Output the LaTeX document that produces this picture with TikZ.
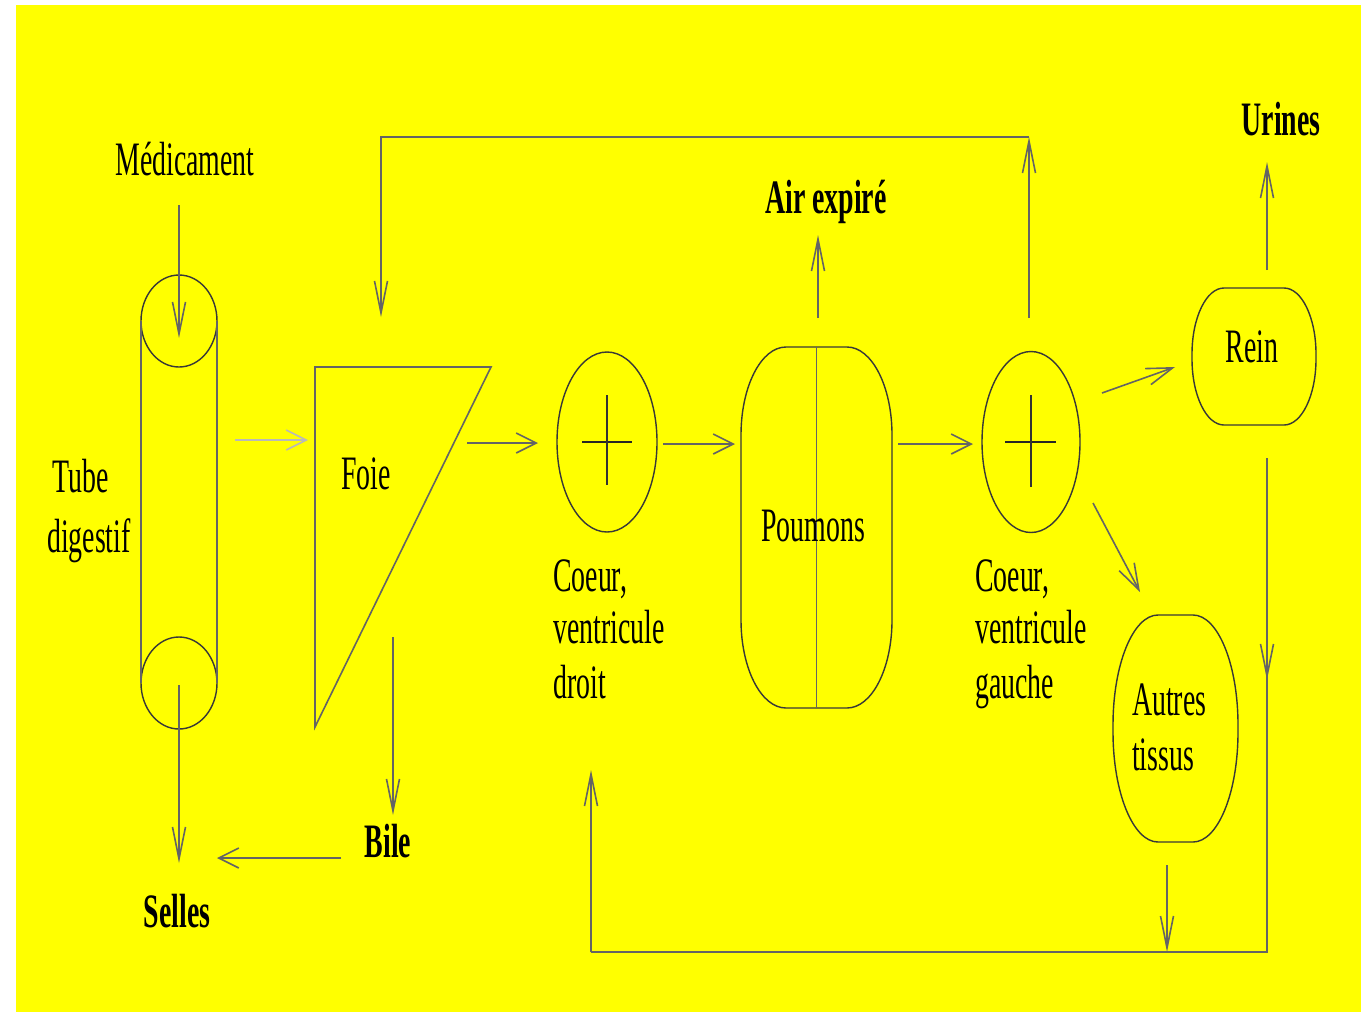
\documentclass[tikz,border=0pt]{standalone}
\usepackage{fontspec}
\setmainfont{Liberation Serif}[FakeStretch=0.58]
\usetikzlibrary{arrows.meta,shapes.geometric}
\definecolor{bgyellow}{RGB}{255,255,0}
\definecolor{linegray}{RGB}{100,100,100}
\definecolor{lightline}{RGB}{185,185,185}
\tikzset{
  ln/.style={draw=linegray, line width=1.6pt},
  harrow/.style={ln, -{Straight Barb[length=20pt,width=20pt]}},
  varrow/.style={ln, -{Straight Barb[length=32pt,width=13pt]}},
  darrow/.style={ln, -{Straight Barb[length=26pt,width=17pt]}},
  organ/.style={draw=black!78, line width=1.4pt},
  crossh/.style={draw=black!85, line width=2.4pt},
  crossv/.style={draw=black!80, line width=1.4pt},
  lbl/.style={font=\fontsize{48}{54}\selectfont, inner sep=0pt, text=black},
  blbl/.style={font=\fontsize{48}{54}\selectfont\bfseries, inner sep=0pt, text=black},
  box/.style={inner sep=0pt, outer sep=0pt},
}
\newcommand\orgstadium[3]{%
  \draw[organ] ([xshift=#2]#1.north west) -- ([xshift=-#2]#1.north east)
    arc[start angle=90, end angle=0, x radius=#2, y radius=#3]
    -- ([yshift=#3]#1.south east)
    arc[start angle=0, end angle=-90, x radius=#2, y radius=#3]
    -- ([xshift=#2]#1.south west)
    arc[start angle=270, end angle=180, x radius=#2, y radius=#3]
    -- ([yshift=-#3]#1.north west)
    arc[start angle=180, end angle=90, x radius=#2, y radius=#3] -- cycle;}
\begin{document}
\begin{tikzpicture}[x=1pt,y=-1pt]
\useasboundingbox (0,0) rectangle (1368,1013);
\fill[white] (0,0) rectangle (1368,1013);
\fill[bgyellow] (16,5) rectangle (1361,1012);

% ---------- Tube digestif ----------
\node[organ, ellipse, minimum width=76pt, minimum height=92pt, box] (tt) at (179,321) {};
\node[organ, ellipse, minimum width=76pt, minimum height=92pt, box] (tb) at (179,683) {};
\draw[ln] (tt.west) -- (tb.west);
\draw[ln] (tt.east) -- (tb.east);
\node[lbl, anchor=base west] (tube1) at (52,492) {Tube};
\node[lbl, anchor=base west] (tube2) at (47,552) {digestif};

\node[lbl, anchor=base] (med) at (185,175) {Médicament};
\coordinate (med0) at (179,205);
\coordinate (med1) at (179,338);
\draw[varrow] (med0) -- (med1);

\coordinate (tb0) at (179,685);
\coordinate (tb1) at (179,863);
\draw[varrow] (tb0) -- (tb1);
\node[blbl, anchor=base] (selles) at (177,927) {Selles};

% ---------- Foie ----------
\coordinate (f1) at (315,367);
\coordinate (f2) at (491,367);
\coordinate (f3) at (315,727);
\draw[ln] (f1) -- (f2) -- (f3) -- cycle;
\node[lbl, anchor=base] (foie) at (366,489) {Foie};

\coordinate (tf0) at (235,440);
\coordinate (tf1) at (308,440);
\draw[harrow, draw=lightline] (tf0) -- (tf1);

\coordinate (fb0) at (393,637);
\coordinate (fb1) at (393,815);
\draw[varrow] (fb0) -- (fb1);
\node[blbl, anchor=base] (bile) at (388,857) {Bile};
\coordinate (bs0) at (341,858);
\coordinate (bs1) at (217,858);
\draw[harrow] (bs0) -- (bs1);

% ---------- Coeur droit ----------
\node[organ, ellipse, minimum width=100pt, minimum height=180pt, box] (cd) at (607,442) {};
\draw[crossh] ([xshift=-25pt]cd.center) -- ([xshift=25pt]cd.center);
\draw[crossv] ([yshift=47pt]cd.center) -- ([yshift=-43pt]cd.center);
\node[lbl, anchor=base west] (cd1) at (553,591) {Coeur,};
\node[lbl, anchor=base west] (cd2) at (553,643) {ventricule};
\node[lbl, anchor=base west] (cd3) at (553,698) {droit};

\coordinate (fc0) at (467,443);
\coordinate (fc1) at (538,443);
\draw[harrow] (fc0) -- (fc1);

% ---------- Poumons ----------
\node[box, minimum width=151pt, minimum height=361pt] (poum) at (816.5,527.5) {};
\orgstadium{poum}{45pt}{88pt}
\draw[ln] (poum.north) -- (poum.south);
\node[lbl, anchor=base] (poumt) at (813,541) {Poumons};

\coordinate (cp0) at (663,444);
\coordinate (cp1) at (735,444);
\draw[harrow] (cp0) -- (cp1);

\coordinate (ae0) at (818,318);
\coordinate (ae1) at (818,235);
\draw[varrow] (ae0) -- (ae1);
\node[blbl, anchor=base] (air) at (826,213) {Air expiré};

% ---------- Coeur gauche ----------
\node[organ, ellipse, minimum width=98pt, minimum height=181pt, box] (cg) at (1031,442) {};
\draw[crossh] ([xshift=-26pt]cg.center) -- ([xshift=25pt]cg.center);
\draw[crossv] ([yshift=47pt]cg.center) -- ([yshift=-45pt]cg.center);
\node[lbl, anchor=base west] (cg1) at (975,591) {Coeur,};
\node[lbl, anchor=base west] (cg2) at (975,643) {ventricule};
\node[lbl, anchor=base west] (cg3) at (975,698) {gauche};

\coordinate (pc0) at (898,444);
\coordinate (pc1) at (973,444);
\draw[harrow] (pc0) -- (pc1);

% top loop back to foie
\coordinate (tl0) at (1029,318);
\coordinate (tl1) at (1029,137);
\coordinate (tl2) at (381,137);
\coordinate (tl3) at (381,317);
\draw[varrow] (tl0) -- (tl1);
\draw[varrow] (tl1) -- (tl2) -- (tl3);

% ---------- Rein ----------
\node[box, minimum width=124pt, minimum height=137pt] (rein) at (1254,356.5) {};
\orgstadium{rein}{32pt}{66pt}
\node[lbl, anchor=base] (reint) at (1252,362) {Rein};

\coordinate (cr0) at (1102,393);
\coordinate (cr1) at (1175,367);
\draw[darrow] (cr0) -- (cr1);

\coordinate (ru0) at (1267,270);
\coordinate (ru1) at (1267,162);
\draw[varrow] (ru0) -- (ru1);
\node[blbl, anchor=base] (urines) at (1281,135) {Urines};

% ---------- Autres tissus ----------
\node[box, minimum width=125pt, minimum height=227pt] (autres) at (1175.5,728.5) {};
\orgstadium{autres}{45pt}{110pt}
\node[lbl, anchor=base west] (at1) at (1132,715) {Autres};
\node[lbl, anchor=base west] (at2) at (1132,770) {tissus};

\coordinate (ca0) at (1093,503);
\coordinate (ca1) at (1140,592);
\draw[darrow] (ca0) -- (ca1);

% bottom return loop
\coordinate (rd0) at (1267,458);
\coordinate (rdm) at (1267,680);
\coordinate (rdc) at (1267,952);
\coordinate (blc) at (591,952);
\coordinate (blt) at (591,770);
\draw[varrow] (rd0) -- (rdm);
\draw[ln] (rd0) -- (rdc) -- (blc);
\draw[varrow] (blc) -- (blt);

\coordinate (ab0) at (1167,865);
\coordinate (ab1) at (1167,952);
\draw[varrow] (ab0) -- (ab1);
\end{tikzpicture}
\end{document}
